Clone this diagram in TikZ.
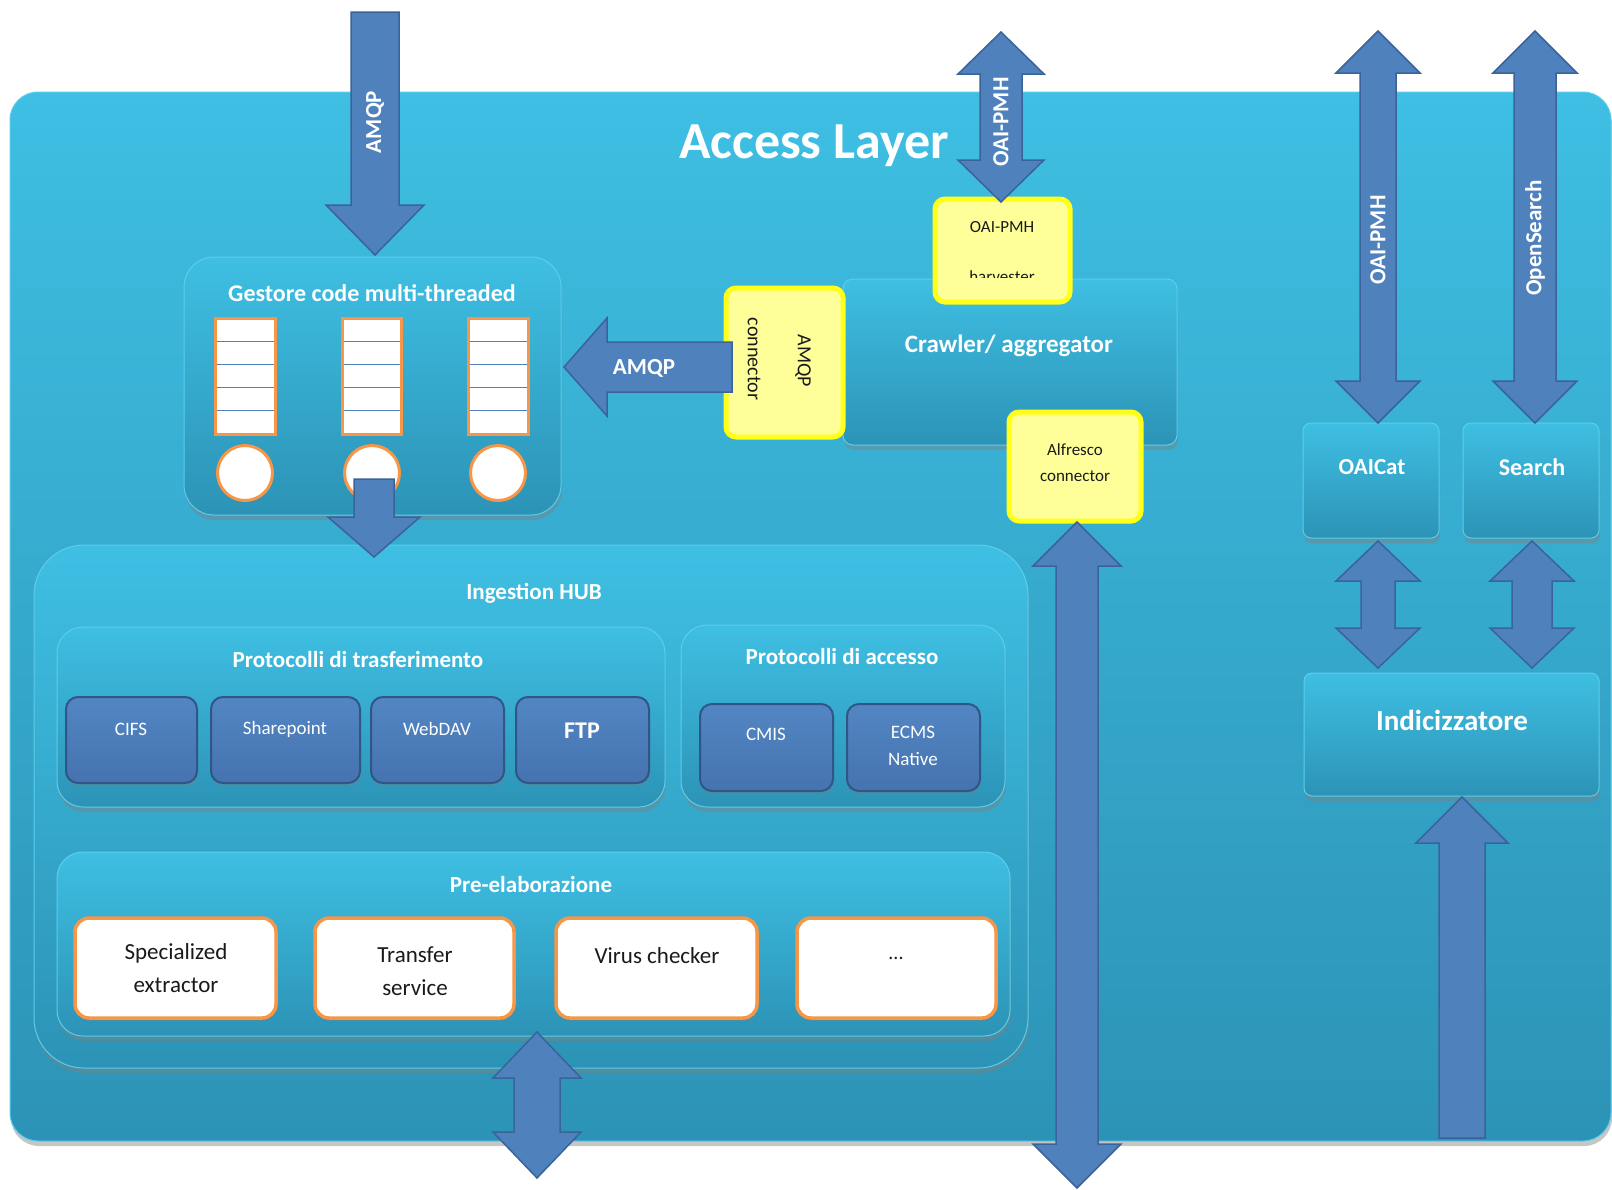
\documentclass[tikz,border=0pt]{standalone}
\usepackage{fontspec}
\setmainfont{Carlito}
\usetikzlibrary{shadows,calc}

\definecolor{panelTop}{HTML}{3EBFE3}
\definecolor{panelBot}{HTML}{2C93B6}
\definecolor{panelEdge}{HTML}{5CCDEB}
\definecolor{arrowBlue}{HTML}{4F81BD}
\definecolor{arrowEdge}{HTML}{3A639B}
\definecolor{protoTop}{HTML}{5286C3}
\definecolor{protoBot}{HTML}{4573AF}
\definecolor{protoEdge}{HTML}{2F5687}
\definecolor{hiYellow}{HTML}{FFFF1A}
\definecolor{softYellow}{HTML}{FFFF99}
\definecolor{accOrange}{HTML}{F79646}
\definecolor{textDark}{HTML}{1A1A1A}

\newcommand\fsz[1]{\fontsize{#1}{#1}\selectfont}

% box node from its top-left and bottom-right corners
\newcommand\boxnode[6]{%
  \node[#1, anchor=north west, inner sep=0pt, outer sep=0pt,
        minimum width={#5-#3}, minimum height={#6-#4}] (#2) at (#3,#4) {};}

% block arrows: centre, two ends, half shaft width, half head width, head length
\newcommand\fatdown[6]{%
  \filldraw[fatarrow] ({#1-#4},#2) -- ({#1+#4},#2) -- ({#1+#4},{#3-#6}) -- ({#1+#5},{#3-#6})
    -- (#1,#3) -- ({#1-#5},{#3-#6}) -- ({#1-#4},{#3-#6}) -- cycle;}
\newcommand\fatup[6]{%
  \filldraw[fatarrow] ({#1-#4},#2) -- ({#1+#4},#2) -- ({#1+#4},{#3+#6}) -- ({#1+#5},{#3+#6})
    -- (#1,#3) -- ({#1-#5},{#3+#6}) -- ({#1-#4},{#3+#6}) -- cycle;}
\newcommand\fatboth[6]{%
  \filldraw[fatarrow] (#1,#2) -- ({#1+#5},{#2+#6}) -- ({#1+#4},{#2+#6}) -- ({#1+#4},{#3-#6})
    -- ({#1+#5},{#3-#6}) -- (#1,#3) -- ({#1-#5},{#3-#6}) -- ({#1-#4},{#3-#6})
    -- ({#1-#4},{#2+#6}) -- ({#1-#5},{#2+#6}) -- cycle;}
\newcommand\fatleft[6]{%
  \filldraw[fatarrow] (#2,{#1-#4}) -- (#2,{#1+#4}) -- ({#3+#6},{#1+#4}) -- ({#3+#6},{#1+#5})
    -- (#3,#1) -- ({#3+#6},{#1-#5}) -- ({#3+#6},{#1-#4}) -- cycle;}

\begin{document}
\begin{tikzpicture}[x=1pt, y=-1pt,
  panel/.style={rounded corners=#1, draw=panelEdge, line width=1pt,
    top color=panelTop, bottom color=panelBot,
    drop shadow={opacity=0.45, shadow xshift=1pt, shadow yshift=-5pt}},
  panel/.default=22pt,
  proto/.style={rounded corners=12pt, draw=protoEdge, line width=2pt,
    top color=protoTop, bottom color=protoBot,
    drop shadow={opacity=0.35, shadow xshift=1pt, shadow yshift=-3pt}},
  whitebox/.style={rounded corners=14pt, draw=accOrange, line width=3.5pt, fill=white,
    drop shadow={opacity=0.3, shadow xshift=1pt, shadow yshift=-3pt}},
  yellowbox/.style={rounded corners=10pt, draw=hiYellow, line width=5pt, fill=softYellow},
  queue/.style={draw=accOrange, line width=3pt, fill=white},
  qline/.style={draw=arrowBlue, line width=1.2pt},
  slot/.style={circle, draw=accOrange, line width=3pt, fill=white, minimum size=55pt, inner sep=0pt},
  fatarrow/.style={fill=arrowBlue, draw=arrowEdge, line width=1.5pt, line join=miter},
  wtxt/.style={text=white, inner sep=0pt, align=center},
  dtxt/.style={text=textDark, inner sep=0pt, align=center},
  arrowlbl/.style={text=white, inner sep=0pt, font=\fsz{23}\bfseries},
]
\useasboundingbox (0,0) rectangle (1612,1189);

% ---- outer layer ----
\boxnode{panel=28pt}{layer}{10}{92}{1611}{1141}
\node[wtxt, font=\fsz{52}\bfseries] (title) at (814,146) {Access Layer};

% ---- queue manager ----
\boxnode{panel=30pt}{gestore}{184}{257}{561}{515}
\node[wtxt, font=\fsz{24}\bfseries] (gestoreT) at (372,293) {Gestore code multi-threaded};
\boxnode{queue}{q1}{215}{318}{275}{434}
\boxnode{queue}{q2}{342}{318}{401}{434}
\boxnode{queue}{q3}{468}{318}{528}{434}
\foreach \q in {q1,q2,q3}{
  \foreach \k in {1,2,3,4}{
    \draw[qline] ($(\q.north west)!\k/5!(\q.south west)+(1.5,0)$) -- ($(\q.north east)!\k/5!(\q.south east)+(-1.5,0)$);
  }
}
\node[slot] (s1) at (245,473) {};
\node[slot] (s2) at (372,473) {};
\node[slot] (s3) at (498,473) {};

% ---- ingestion hub ----
\boxnode{panel=50pt}{hub}{34}{545}{1028}{1068}
\node[wtxt, font=\fsz{23}\bfseries] (hubT) at (534,593) {Ingestion HUB};

\boxnode{panel=26pt}{transf}{57}{627}{665}{807}
\node[wtxt, font=\fsz{23}\bfseries] (transfT) at (358,660) {Protocolli di trasferimento};
\boxnode{proto}{cifs}{66}{697}{197}{783}
\boxnode{proto}{share}{211}{697}{360}{783}
\boxnode{proto}{webdav}{371}{697}{504}{783}
\boxnode{proto}{ftp}{516}{697}{649}{783}
\node[wtxt, font=\fsz{19}] (cifsT) at (131,729) {CIFS};
\node[wtxt, font=\fsz{19}] (shareT) at (285,729) {Sharepoint};
\node[wtxt, font=\fsz{19}] (webdavT) at (437,729) {WebDAV};
\node[wtxt, font=\fsz{24}\bfseries] (ftpT) at (582,731) {FTP};

\boxnode{panel=26pt}{access}{681}{625}{1005}{807}
\node[wtxt, font=\fsz{23}\bfseries] (accessT) at (842,657) {Protocolli di accesso};
\boxnode{proto}{cmis}{700}{704}{833}{791}
\boxnode{proto}{ecms}{847}{704}{980}{791}
\node[wtxt, font=\fsz{19}] (cmisT) at (766,734) {CMIS};
\node[wtxt, font=\fsz{19}, execute at begin node=\setlength{\baselineskip}{27pt}] (ecmsT) at (913,746) {ECMS\\Native};

\boxnode{panel=26pt}{pre}{57}{852}{1010}{1036}
\node[wtxt, font=\fsz{23}\bfseries] (preT) at (531,885) {Pre-elaborazione};
\boxnode{whitebox}{spec}{75}{918}{276}{1018}
\boxnode{whitebox}{transfer}{315}{918}{514}{1018}
\boxnode{whitebox}{virus}{556}{918}{757}{1018}
\boxnode{whitebox}{more}{797}{918}{996}{1018}
\node[dtxt, font=\fsz{23}, execute at begin node=\setlength{\baselineskip}{33pt}] (specT) at (176,968) {Specialized\\extractor};
\node[dtxt, font=\fsz{23}, execute at begin node=\setlength{\baselineskip}{33pt}] (transferT) at (415,971) {Transfer\\service};
\node[dtxt, font=\fsz{23}] (virusT) at (657,956) {Virus checker};
\node[dtxt, font=\fsz{20}] (moreT) at (896,958) {...};

% ---- crawler and its connectors ----
\boxnode{panel=10pt}{crawler}{843}{279}{1177}{445}
\node[wtxt, font=\fsz{25}\bfseries] (crawlerT) at (1009,346) {Crawler/ aggregator};

\boxnode{yellowbox}{amqpconn}{726}{288}{843}{437}
\node[dtxt, font=\fsz{20}, rotate=-90] (amqpconnA) at (803,361) {AMQP};
\node[dtxt, font=\fsz{20}, rotate=-90] (amqpconnB) at (754,359) {connector};

\boxnode{yellowbox}{harvester}{935}{199}{1070}{302}
\node[dtxt, font=\fsz{17}] (harvesterA) at (1002,227) {OAI-PMH};
\begin{scope}
  \clip (935,255) rectangle (1070,277);
  \node[dtxt, font=\fsz{17}, anchor=base] (harvesterB) at (1002,282) {harvester};
\end{scope}

\boxnode{yellowbox}{alfresco}{1009}{412}{1141}{521}
\node[dtxt, font=\fsz{17}] (alfrescoA) at (1075,450) {Alfresco};
\node[dtxt, font=\fsz{17}] (alfrescoB) at (1075,476) {connector};

% ---- search side ----
\boxnode{panel=8pt}{oaicat}{1303}{423}{1439}{538}
\boxnode{panel=8pt}{search}{1463}{423}{1599}{538}
\boxnode{panel=8pt}{indexer}{1304}{673}{1599}{796}
\node[wtxt, font=\fsz{23}\bfseries] (oaicatT) at (1372,467) {OAICat};
\node[wtxt, font=\fsz{24}\bfseries] (searchT) at (1532,467) {Search};
\node[wtxt, font=\fsz{29}\bfseries] (indexerT) at (1452,720) {Indicizzatore};

% ---- block arrows ----
\fatdown{375}{12}{255}{24}{49}{50}
\fatdown{374}{479}{557}{20}{46}{40}
\fatleft{367}{732}{564}{25}{49}{43}
\fatboth{1001}{32}{202}{21}{43}{42}
\fatboth{1378}{31}{423}{18}{42}{42}
\fatboth{1535}{31}{423}{21}{42}{42}
\fatboth{1378}{541}{668}{17}{42}{40}
\fatboth{1532}{541}{668}{20}{42}{40}
\fatboth{1077}{522}{1188}{21}{44}{44}
\fatboth{537}{1032}{1178}{23}{44}{46}
\fatup{1462}{1138}{797}{23}{46}{46}

% ---- arrow labels ----
\node[arrowlbl, rotate=90] (lblAmqpIn) at (375,122) {AMQP};
\node[arrowlbl] (lblAmqpOut) at (644,368) {AMQP};
\node[arrowlbl, rotate=90] (lblOaiTop) at (1001,122) {OAI-PMH};
\node[arrowlbl, rotate=90] (lblOaiRight) at (1378,240) {OAI-PMH};
\node[arrowlbl, rotate=90] (lblOpenSearch) at (1535,238) {OpenSearch};
\end{tikzpicture}
\end{document}
